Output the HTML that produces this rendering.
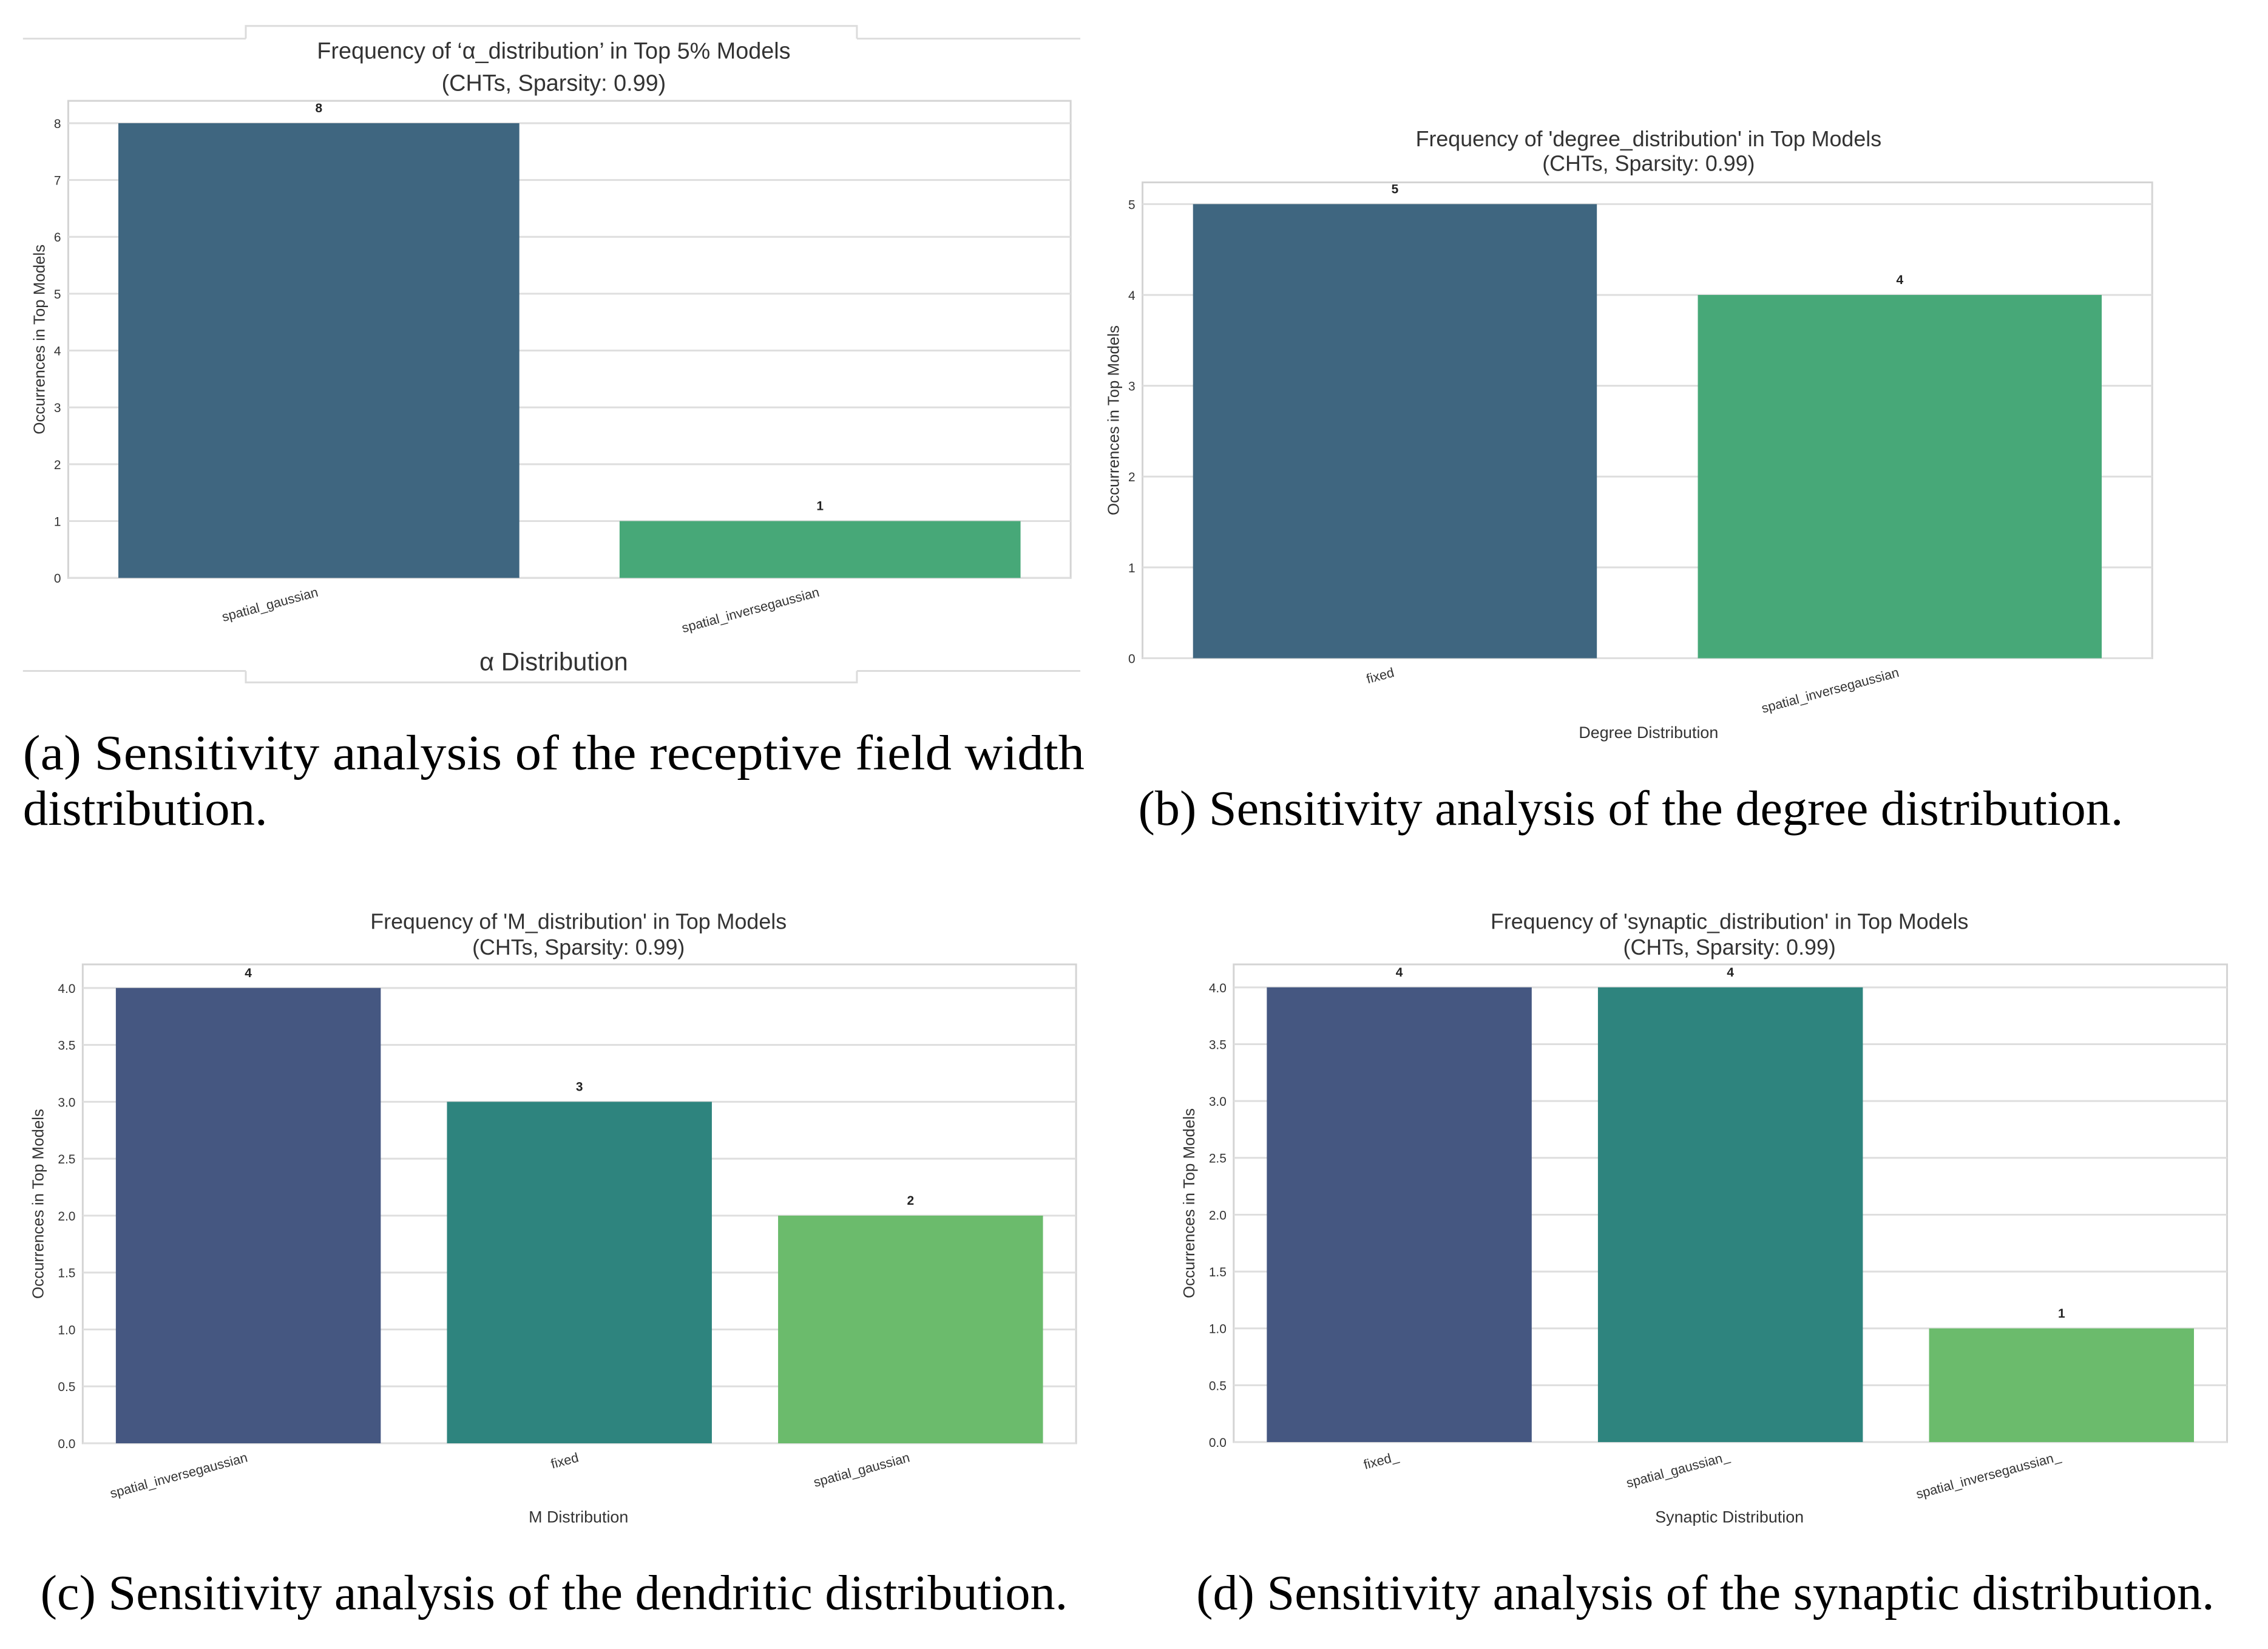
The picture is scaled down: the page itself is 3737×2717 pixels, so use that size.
<!DOCTYPE html>
<html><head><meta charset="utf-8">
<style>
html,body{margin:0;padding:0;background:#fff;}
svg{display:block;}
</style></head>
<body>
<svg id="fig" width="3737" height="2717" viewBox="0 0 3737 2717" xmlns="http://www.w3.org/2000/svg">
 <g transform="scale(0.995)">
  <g stroke="#dcdcdc" stroke-width="3" fill="none">
    <line x1="38" y1="64" x2="407" y2="64"/>
    <line x1="1419" y1="64" x2="1789" y2="64"/>
    <polyline points="407,64 407,43 1419,43 1419,64"/>
    <line x1="38" y1="1111" x2="407" y2="1111"/>
    <line x1="1419" y1="1111" x2="1789" y2="1111"/>
    <polyline points="407,1111 407,1130 1419,1130 1419,1111"/>
  </g>
  <g id="charts"></g>
  <g font-family="'Liberation Serif', serif" font-size="82" fill="#000">
    <text x="38" y="1274" textLength="1758" lengthAdjust="spacingAndGlyphs">(a) Sensitivity analysis of the receptive field width</text>
    <text x="38" y="1366" textLength="405" lengthAdjust="spacingAndGlyphs">distribution.</text>
    <text x="1885" y="1366" textLength="1631" lengthAdjust="spacingAndGlyphs">(b) Sensitivity analysis of the degree distribution.</text>
    <text x="67" y="2665" textLength="1701" lengthAdjust="spacingAndGlyphs">(c) Sensitivity analysis of the dendritic distribution.</text>
    <text x="1981" y="2665" textLength="1686" lengthAdjust="spacingAndGlyphs">(d) Sensitivity analysis of the synaptic distribution.</text>
  </g>
 </g>
</svg>
<script>
// ---- data ----
const catsA = ['spatial_gaussian', 'spatial_inversegaussian'];
const valsA = [8, 1];
const ticksA = [0, 1, 2, 3, 4, 5, 6, 7, 8];
const catsB = ['fixed', 'spatial_inversegaussian'];
const valsB = [5, 4];
const ticksB = [0, 1, 2, 3, 4, 5];
const catsC = ['spatial_inversegaussian', 'fixed', 'spatial_gaussian'];
const valsC = [4, 3, 2];
const ticksC = ['0.0', '0.5', '1.0', '1.5', '2.0', '2.5', '3.0', '3.5', '4.0'];
const catsD = ['fixed_', 'spatial_gaussian_', 'spatial_inversegaussian_'];
const valsD = [4, 4, 1];
const ticksD = ['0.0', '0.5', '1.0', '1.5', '2.0', '2.5', '3.0', '3.5', '4.0'];

const NS = 'http://www.w3.org/2000/svg';
const root = document.getElementById('charts');
function mk(tag, attrs, parent, text) {
  const e = document.createElementNS(NS, tag);
  for (const k in attrs) e.setAttribute(k, attrs[k]);
  if (text !== undefined) e.textContent = text;
  parent.appendChild(e);
  return e;
}

function chart(cfg) {
  const g = mk('g', {}, root);
  
  
  const L = cfg.left, R = cfg.right, T = cfg.top, B = cfg.bottom;
  const yMax = cfg.yMax;
  const yS = v => B - (v / yMax) * (cfg.zeroToMaxPx);
  const n = cfg.cats.length;
  const step = (R - L) / n;
  const xC = i => L + step * (i + 0.5);
  const bw = step * cfg.barFrac;
  const bg = mk('rect', {x: L, y: T, width: R - L, height: B - T, fill: '#fff', stroke: '#d4d4d4', 'stroke-width': 3}, g);
  
  
  cfg.ticks.forEach(t => {
    const v = parseFloat(t);
    const y = yS(v);
    const gl = mk('line', {x1: L, x2: R, y1: y, y2: y, stroke: '#dedede', 'stroke-width': 3}, g);
    
    
    const tl = mk('text', {x: L - 12, y: y + 8, 'text-anchor': 'end', 'font-size': cfg.tickFs, fill: '#333', 'font-family': "'Liberation Sans', sans-serif"}, g, String(t));
    
    
  });
  cfg.vals.forEach((v, i) => {
    const x = xC(i) - bw / 2;
    const b = mk('rect', {x: x, y: yS(v), width: bw, height: yS(0) - yS(v), fill: cfg.colors[i]}, g);
    
    
    const vl = mk('text', {x: xC(i), y: yS(v) - 18, 'text-anchor': 'middle', 'font-size': cfg.tickFs, 'font-weight': 'bold', fill: '#222', 'font-family': "'Liberation Sans', sans-serif"}, g, String(v));
    
    
    const cx = xC(i), cy = B + 30;
    const cl = mk('text', {x: cx, y: cy, 'text-anchor': 'end', 'font-size': cfg.catFs, fill: '#333', 'font-family': "'Liberation Sans', sans-serif", transform: 'rotate(-15 ' + cx + ' ' + cy + ')'}, g, cfg.cats[i]);
    
    
  });
  cfg.title.forEach((line, k) => {
    const t = mk('text', {x: cfg.titleX, y: cfg.titleY[k], 'text-anchor': 'middle', 'font-size': cfg.titleFs, fill: '#333', 'font-family': "'Liberation Sans', sans-serif"}, g, line);
    
    
  });
  const xl = mk('text', {x: cfg.titleX, y: cfg.xlabY, 'text-anchor': 'middle', 'font-size': cfg.xlabFs, fill: '#333', 'font-family': "'Liberation Sans', sans-serif"}, g, cfg.xlab);
  
  
  const ym = (T + B) / 2;
  const yl = mk('text', {x: cfg.ylabX, y: ym, 'text-anchor': 'middle', 'font-size': 26, fill: '#333', 'font-family': "'Liberation Sans', sans-serif", transform: 'rotate(-90 ' + cfg.ylabX + ' ' + ym + ')'}, g, 'Occurrences in Top Models');
  
  
}

chart({name: 'chart-alpha-distribution', cats: catsA, vals: valsA, ticks: ticksA, yMax: 8,
  left: 113, right: 1773, top: 167, bottom: 957, zeroToMaxPx: 753, barFrac: 0.8,
  colors: ['#3f6680', '#47a878'], tickFs: 21, catFs: 22,
  title: ["Frequency of \u2018\u03b1_distribution\u2019 in Top 5% Models", '(CHTs, Sparsity: 0.99)'],
  titleX: 917, titleY: [97, 150], titleFs: 38, xlab: '\u03b1 Distribution', xlabY: 1110, xlabFs: 42, ylabX: 74});

chart({name: 'chart-degree-distribution', cats: catsB, vals: valsB, ticks: ticksB, yMax: 5,
  left: 1892, right: 3564, top: 302, bottom: 1090, zeroToMaxPx: 752, barFrac: 0.8,
  colors: ['#3f6680', '#47a878'], tickFs: 21, catFs: 22,
  title: ["Frequency of 'degree_distribution' in Top Models", '(CHTs, Sparsity: 0.99)'],
  titleX: 2730, titleY: [242, 283], titleFs: 36, xlab: 'Degree Distribution', xlabY: 1222, xlabFs: 27, ylabX: 1853});

chart({name: 'chart-m-distribution', cats: catsC, vals: valsC, ticks: ticksC, yMax: 4,
  left: 137, right: 1782, top: 1597, bottom: 2390, zeroToMaxPx: 754, barFrac: 0.8,
  colors: ['#455781', '#2e847e', '#6bbb6c'], tickFs: 21, catFs: 22,
  title: ["Frequency of 'M_distribution' in Top Models", '(CHTs, Sparsity: 0.99)'],
  titleX: 958, titleY: [1538, 1581], titleFs: 36, xlab: 'M Distribution', xlabY: 2521, xlabFs: 27, ylabX: 72});

chart({name: 'chart-synaptic-distribution', cats: catsD, vals: valsD, ticks: ticksD, yMax: 4,
  left: 2043, right: 3688, top: 1597, bottom: 2388, zeroToMaxPx: 753, barFrac: 0.8,
  colors: ['#455781', '#2e847e', '#6bbb6c'], tickFs: 21, catFs: 22,
  title: ["Frequency of 'synaptic_distribution' in Top Models", '(CHTs, Sparsity: 0.99)'],
  titleX: 2864, titleY: [1538, 1581], titleFs: 36, xlab: 'Synaptic Distribution', xlabY: 2521, xlabFs: 27, ylabX: 1978});
</script>
</body></html>
